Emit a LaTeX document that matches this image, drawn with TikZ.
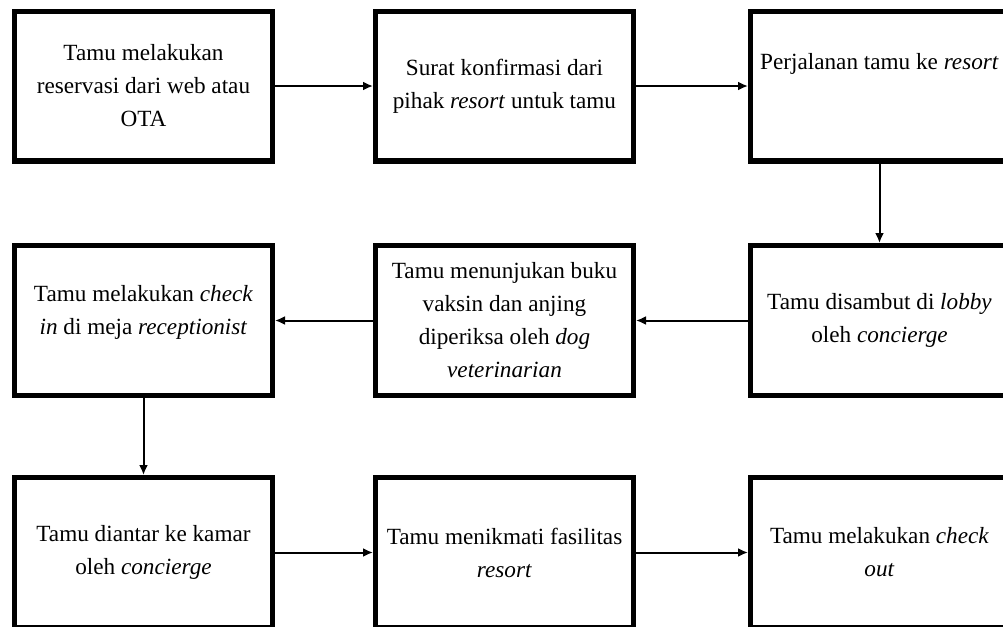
\documentclass[tikz,border=0pt]{standalone}
\usepackage{fontspec}
\setmainfont{Liberation Serif}
\usetikzlibrary{arrows.meta}

\tikzset{
    etape/.style={draw, line width=2.6pt, minimum width=128.9pt, minimum height=74.9pt,
        inner sep=0pt, align=center, font=\fontsize{11.6}{16.5}\selectfont},
    fleche/.style={line width=1pt, -{Latex[length=5pt, width=4.5pt]}}
}

\begin{document}
\begin{tikzpicture}
    \useasboundingbox (0,0) rectangle (501.5pt,-313.5pt);

    % Ligne du haut
    \node[etape] (reservasi) at (71.75pt,-43pt) {Tamu melakukan\\reservasi dari web atau\\OTA};
    \node[etape] (konfirmasi) at (252.25pt,-43pt) {Surat konfirmasi dari\\pihak \textit{resort} untuk tamu};
    \node[etape, text depth=25pt] (perjalanan) at (439.75pt,-43pt) {Perjalanan tamu ke \textit{resort}};

    % Ligne du milieu
    \node[etape, text depth=11pt] (checkin) at (71.75pt,-160.25pt) {Tamu melakukan \textit{check}\\\textit{in} di meja \textit{receptionist}};
    \node[etape] (vaksin) at (252.25pt,-160.25pt) {Tamu menunjukan buku\\vaksin dan anjing\\diperiksa oleh \textit{dog}\\\textit{veterinarian}};
    \node[etape] (disambut) at (439.75pt,-160.25pt) {Tamu disambut di \textit{lobby}\\oleh \textit{concierge}};

    % Ligne du bas
    \node[etape] (diantar) at (71.75pt,-276.25pt) {Tamu diantar ke kamar\\oleh \textit{concierge}};
    \node[etape] (fasilitas) at (252.25pt,-276.25pt) {Tamu menikmati fasilitas\\\textit{resort}};
    \node[etape] (checkout) at (439.75pt,-276.25pt) {Tamu melakukan \textit{check}\\\textit{out}};

    % Flèches
    \draw[fleche] (reservasi) -- (konfirmasi);
    \draw[fleche] (konfirmasi) -- (perjalanan);
    \draw[fleche] (perjalanan) -- (disambut);
    \draw[fleche] (disambut) -- (vaksin);
    \draw[fleche] (vaksin) -- (checkin);
    \draw[fleche] (checkin) -- (diantar);
    \draw[fleche] (diantar) -- (fasilitas);
    \draw[fleche] (fasilitas) -- (checkout);
\end{tikzpicture}
\end{document}
